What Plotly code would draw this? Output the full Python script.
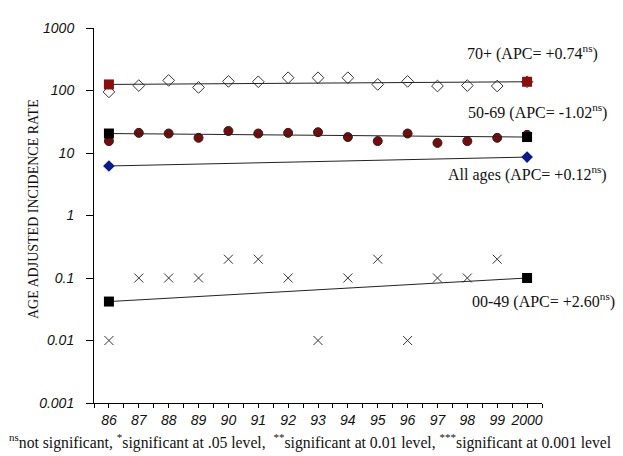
import plotly.graph_objects as go

years = [86, 87, 88, 89, 90, 91, 92, 93, 94, 95, 96, 97, 98, 99, 100]
year_labels = ["86", "87", "88", "89", "90", "91", "92", "93", "94", "95", "96", "97", "98", "99", "2000"]

rate_70plus = [95, 120, 145, 112, 140, 138, 160, 160, 160, 125, 140, 118, 120, 118, 138]
rate_50_69 = [15.5, 21, 20.5, 17.5, 22.5, 20.5, 21, 21.5, 18, 15.5, 20.5, 14.5, 15.5, 17.5, 19.5]
rate_00_49 = [0.01, 0.1, 0.1, 0.1, 0.2, 0.2, 0.1, 0.01, 0.1, 0.2, 0.01, 0.1, 0.1, 0.2, 0.1]

fit_years = [86, 100]
fit_70plus = [125, 138]
fit_50_69 = [20.5, 18.0]
fit_all = [6.2, 8.6]
fit_00_49 = [0.042, 0.1]

labels = [
    ("70+ (APC= +0.74<sup>ns</sup>)", 457, 45),
    ("50-69 (APC= -1.02<sup>ns</sup>)", 458, 103),
    ("All ages (APC= +0.12<sup>ns</sup>)", 438, 165),
    ("00-49 (APC= +2.60<sup>ns</sup>)", 462, 292),
]

W, H = 623, 456
L, R, T, B = 86, 534, 20, 395

fig = go.Figure()

# fitted lines
def fit_trace(y, color, symbol, size):
    fig.add_trace(go.Scatter(
        x=fit_years, y=y, mode="lines+markers",
        line=dict(color="#222222", width=1),
        marker=dict(color=color, symbol=symbol, size=size, line=dict(width=0)),
        cliponaxis=False, showlegend=False))

# data markers
fig.add_trace(go.Scatter(x=years, y=rate_70plus, mode="markers",
    marker=dict(symbol="diamond-open", size=9, color="#333333", line=dict(width=1)),
    showlegend=False, cliponaxis=False))
fig.add_trace(go.Scatter(x=years, y=rate_50_69, mode="markers",
    marker=dict(symbol="circle", size=9, color="#7a0a0a", line=dict(color="#222222", width=1)),
    showlegend=False, cliponaxis=False))
fig.add_trace(go.Scatter(x=years, y=rate_00_49, mode="markers",
    marker=dict(symbol="x-thin-open", size=9, color="#333333", line=dict(color="#333333", width=1)),
    showlegend=False, cliponaxis=False))

fit_trace(fit_70plus, "#8b0e0e", "square", 10)
fit_trace(fit_50_69, "#000000", "square", 10)
fit_trace(fit_all, "#0a1a8c", "diamond", 9)
fit_trace(fit_00_49, "#000000", "square", 10)

annotations = []
for text, px, py in labels:
    annotations.append(dict(
        text=text, xref="paper", yref="paper",
        x=(px - L) / (R - L), y=(B - py) / (B - T),
        xanchor="left", yanchor="middle", showarrow=False,
        font=dict(family="Liberation Serif", size=16, color="#111111")))

annotations.append(dict(
    text="AGE ADJUSTED INCIDENCE RATE", xref="paper", yref="paper",
    x=(25 - L) / (R - L), y=(B - 201) / (B - T), textangle=-90,
    xanchor="center", yanchor="middle", showarrow=False,
    font=dict(family="Liberation Serif", size=14, color="#111111")))

annotations.append(dict(
    text="<sup>ns</sup>not significant, <sup>*</sup>significant at .05 level,  <sup>**</sup>significant at 0.01 level, <sup>***</sup>significant at 0.001 level",
    xref="paper", yref="paper",
    x=(-1 - L) / (R - L), y=(B - 433) / (B - T),
    xanchor="left", yanchor="middle", showarrow=False,
    font=dict(family="Liberation Serif", size=15.7, color="#111111")))

fig.update_layout(
    width=W, height=H,
    margin=dict(l=L, r=W - R, t=T, b=H - B, pad=0),
    plot_bgcolor="white", paper_bgcolor="white",
    annotations=annotations,
    xaxis=dict(
        range=[85.5, 100.5], tickvals=years, ticktext=year_labels,
        showgrid=False, zeroline=False, showline=True, linecolor="black", linewidth=1,
        ticks="outside", ticklen=4, tickcolor="black", ticklabelstandoff=0,
        tickfont=dict(family="Liberation Sans", size=14, color="#111111", style="italic"),
        minor=dict(tick0=85.5, dtick=1, ticks="outside", ticklen=4, tickcolor="black"),
    ),
    yaxis=dict(
        type="log", range=[-3, 3],
        tickvals=[0.001, 0.01, 0.1, 1, 10, 100, 1000],
        ticktext=["0.001", "0.01", "0.1", "1", "10", "100", "1000"],
        showgrid=False, zeroline=False, showline=True, linecolor="black", linewidth=1,
        ticks="outside", ticklen=7, tickcolor="black", ticklabelstandoff=9,
        tickfont=dict(family="Liberation Sans", size=14, color="#111111", style="italic"),
    ),
)

fig.write_html("out.html")
